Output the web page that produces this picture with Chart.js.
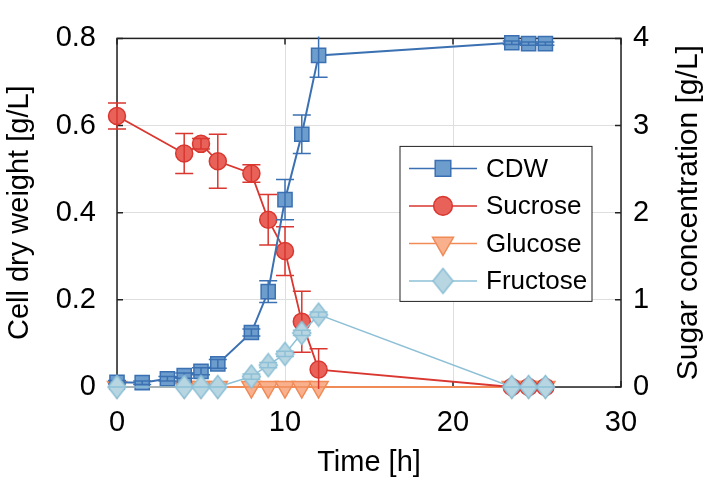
<!DOCTYPE html>
<html>
<head>
<meta charset="utf-8">
<script src="https://cdn.jsdelivr.net/npm/chart.js@4.4.1/dist/chart.umd.min.js"></script>
<style>
  html, body { margin: 0; padding: 0; background: #fff; }
  #wrap { width: 709px; height: 481px; }
</style>
</head>
<body>
<div id="wrap"><canvas id="chart" width="709" height="481"></canvas></div>
<script>
// CDW sampling times [h], values and error [g/L] (left axis)
const cdwTime = [0, 1.5, 3, 4, 5, 6, 8, 9, 10, 11, 12, 23.5, 24.5, 25.5];
const cdwValues = [0.011, 0.01, 0.019, 0.026, 0.036, 0.053, 0.125, 0.219, 0.43, 0.58, 0.761, 0.79, 0.788, 0.788];
const cdwErr = [0.004, 0.004, 0.005, 0.006, 0.008, 0.01, 0.008, 0.025, 0.046, 0.044, 0.05, 0.004, 0.004, 0.004];

// sugar sampling times [h] and concentrations [g/L] (right axis)
const sugarTime = [0, 4, 5, 6, 8, 9, 10, 11, 12, 23.5, 24.5, 25.5];
const sucroseValues = [3.11, 2.68, 2.79, 2.59, 2.45, 1.92, 1.56, 0.75, 0.2, 0, 0, 0];
const sucroseErr = [0.15, 0.23, 0.06, 0.31, 0.1, 0.29, 0.28, 0.35, 0.24, 0, 0, 0];
const glucoseValues = [0, 0, 0, 0, 0, 0, 0, 0, 0, 0, 0, 0];
const glucoseErr = [0, 0, 0, 0, 0, 0, 0, 0, 0, 0, 0, 0];
const fructoseValues = [0, 0, 0, 0, 0.12, 0.25, 0.38, 0.62, 0.83, 0, 0, 0];
const fructoseErr = [0, 0, 0, 0, 0.03, 0.03, 0.03, 0.03, 0.03, 0, 0, 0];

const xTicks = [0, 10, 20, 30];
const FONT = "'Liberation Sans', Arial, Helvetica, sans-serif";

function pts(xs, ys) {
  return xs.map((x, i) => ({x: x, y: ys[i]}));
}

// tall diamond marker, MATLAB-like
function diamond(w, h, fill, stroke) {
  const c = document.createElement('canvas');
  c.width = w + 3; c.height = h + 3;
  const g = c.getContext('2d');
  const cx = c.width / 2, cy = c.height / 2;
  g.beginPath();
  g.moveTo(cx, cy - h / 2);
  g.lineTo(cx + w / 2, cy);
  g.lineTo(cx, cy + h / 2);
  g.lineTo(cx - w / 2, cy);
  g.closePath();
  g.fillStyle = fill; g.fill();
  g.strokeStyle = stroke; g.lineWidth = 1.5; g.stroke();
  return c;
}

const fruDiamond = diamond(18, 23, '#b7d6e2', '#8dc0d6');
const fruDiamondLegend = diamond(20, 25, '#b7d6e2', '#8dc0d6');

const errorBars = {
  id: 'errorBars',
  afterDatasetDraw(chart, args) {
    const ds = chart.data.datasets[args.index];
    if (!ds.errors) return;
    const ctx = chart.ctx;
    const ca = chart.chartArea;
    const xs = chart.scales.x, ys = chart.scales[ds.yAxisID];
    ctx.save();
    ctx.beginPath();
    ctx.rect(ca.left - 12, ca.top - 2, ca.right - ca.left + 24, ca.bottom - ca.top + 4);
    ctx.clip();
    ctx.strokeStyle = ds.borderColor;
    ctx.lineWidth = 1.5;
    ds.data.forEach((p, i) => {
      const e = ds.errors[i];
      const px = xs.getPixelForValue(p.x);
      const top = ys.getPixelForValue(p.y + e);
      const bot = ys.getPixelForValue(p.y - e);
      ctx.beginPath();
      ctx.moveTo(px, top); ctx.lineTo(px, bot);
      ctx.moveTo(px - 9, top); ctx.lineTo(px + 9, top);
      ctx.moveTo(px - 9, bot); ctx.lineTo(px + 9, bot);
      ctx.stroke();
    });
    ctx.restore();
  }
};

const frame = {
  id: 'frame',
  beforeDatasetsDraw(chart) {
    const ctx = chart.ctx;
    const ca = chart.chartArea;
    const xs = chart.scales.x, yl = chart.scales.y, yr = chart.scales.y2;
    ctx.save();
    ctx.strokeStyle = '#222';
    ctx.lineWidth = 1.5;
    ctx.strokeRect(ca.left, ca.top, ca.right - ca.left, ca.bottom - ca.top);
    ctx.beginPath();
    const tl = 6;
    xs.ticks.forEach(t => {
      const px = xs.getPixelForValue(t.value);
      ctx.moveTo(px, ca.bottom); ctx.lineTo(px, ca.bottom - tl);
      ctx.moveTo(px, ca.top); ctx.lineTo(px, ca.top + tl);
    });
    yl.ticks.forEach(t => {
      const py = yl.getPixelForValue(t.value);
      ctx.moveTo(ca.left, py); ctx.lineTo(ca.left + tl, py);
    });
    yr.ticks.forEach(t => {
      const py = yr.getPixelForValue(t.value);
      ctx.moveTo(ca.right, py); ctx.lineTo(ca.right - tl, py);
    });
    ctx.stroke();
    ctx.restore();
  },
  afterDraw(chart) {
    const ctx = chart.ctx;
    const ca = chart.chartArea;
    // right axis title, reading bottom to top
    ctx.save();
    ctx.translate(689, (ca.top + ca.bottom) / 2);
    ctx.rotate(-Math.PI / 2);
    ctx.font = '30px ' + FONT;
    ctx.fillStyle = '#000';
    ctx.textAlign = 'center';
    ctx.textBaseline = 'middle';
    ctx.fillText('Sugar concentration [g/L]', 0, 0);
    ctx.restore();

    // legend box inside the axes
    const bx = ca.left + 283, by = ca.top + 108, bw = 192, bh = 155;
    ctx.save();
    ctx.fillStyle = '#fff';
    ctx.fillRect(bx, by, bw, bh);
    ctx.strokeStyle = '#222';
    ctx.lineWidth = 1;
    ctx.strokeRect(bx, by, bw, bh);
    ctx.font = '26px ' + FONT;
    ctx.textBaseline = 'middle';
    chart.data.datasets.forEach((ds, i) => {
      const y = by + 22 + i * 37.5;
      ctx.strokeStyle = ds.borderColor;
      ctx.lineWidth = 1.5;
      ctx.beginPath();
      ctx.moveTo(bx + 9, y); ctx.lineTo(bx + 77, y);
      ctx.stroke();
      ctx.fillStyle = ds.backgroundColor;
      ctx.strokeStyle = ds.borderColor;
      ctx.lineWidth = 1.5;
      Chart.helpers.drawPoint(ctx, {
        pointStyle: ds.legendStyle || ds.pointStyle,
        radius: ds.pointRadius * 1.1,
        rotation: ds.pointRotation || 0,
        borderWidth: 1.5
      }, bx + 43, y);
      ctx.fillStyle = '#000';
      ctx.fillText(ds.label, bx + 86, y + 1);
    });
    ctx.restore();
  }
};

new Chart(document.getElementById('chart'), {
  type: 'line',
  data: {
    datasets: [
      {
        label: 'CDW', yAxisID: 'y', order: 2, clip: false,
        data: pts(cdwTime, cdwValues), errors: cdwErr,
        borderColor: '#3b71b2', backgroundColor: '#6c9dcd',
        borderWidth: 2, pointStyle: 'rect', pointRadius: 10, pointBorderWidth: 1.5
      },
      {
        label: 'Sucrose', yAxisID: 'y2', order: 3, clip: false,
        data: pts(sugarTime, sucroseValues), errors: sucroseErr,
        borderColor: '#d9372f', backgroundColor: '#e8625a',
        borderWidth: 1.8, pointStyle: 'circle', pointRadius: 8.5, pointBorderWidth: 1.5
      },
      {
        label: 'Glucose', yAxisID: 'y2', order: 4, clip: false,
        data: pts(sugarTime, glucoseValues), errors: glucoseErr,
        borderColor: '#f08a57', backgroundColor: '#f9b08c',
        borderWidth: 1.8, pointStyle: 'triangle', pointRotation: 180, pointRadius: 11, pointBorderWidth: 1.5
      },
      {
        label: 'Fructose', yAxisID: 'y2', order: 1, clip: false,
        data: pts(sugarTime, fructoseValues), errors: fructoseErr,
        borderColor: '#8dc0d6', backgroundColor: '#b7d6e2',
        borderWidth: 1.5, pointStyle: fruDiamond, legendStyle: fruDiamondLegend, pointRadius: 10, pointBorderWidth: 1.5
      }
    ]
  },
  options: {
    responsive: false,
    animation: false,
    devicePixelRatio: 1,
    layout: { padding: { top: 15, left: 0, right: 0, bottom: 0 } },
    elements: { line: { tension: 0 } },
    plugins: {
      legend: { display: false },
      tooltip: { enabled: false }
    },
    scales: {
      x: {
        type: 'linear', min: 0, max: 30,
        afterBuildTicks: s => { s.ticks = xTicks.map(v => ({value: v})); },
        afterFit: s => { s.height = 94; },
        grid: { color: '#dedede', lineWidth: 1, drawTicks: false },
        border: { display: false },
        ticks: { padding: 19, color: '#000', font: { family: FONT, size: 29 } },
        title: { display: true, text: 'Time [h]', color: '#000', padding: { top: 0, bottom: 1 }, font: { family: FONT, size: 29 } }
      },
      y: {
        position: 'left', min: 0, max: 0.8,
        afterFit: s => { s.width = 117; },
        grid: { color: '#dedede', lineWidth: 1, drawTicks: false },
        border: { display: false },
        ticks: {
          stepSize: 0.2, padding: 21, color: '#000', font: { family: FONT, size: 29 },
          callback: v => v === 0 ? '0' : v.toFixed(1)
        },
        title: { display: true, text: 'Cell dry weight [g/L]', color: '#000', padding: { top: 3, bottom: 3 }, font: { family: FONT, size: 29 } }
      },
      y2: {
        position: 'right', min: 0, max: 4,
        afterFit: s => { s.width = 88; },
        grid: { display: false, drawTicks: false },
        border: { display: false },
        ticks: { stepSize: 1, padding: 12, color: '#000', font: { family: FONT, size: 29 } }
      }
    }
  },
  plugins: [errorBars, frame]
});
</script>
</body>
</html>
